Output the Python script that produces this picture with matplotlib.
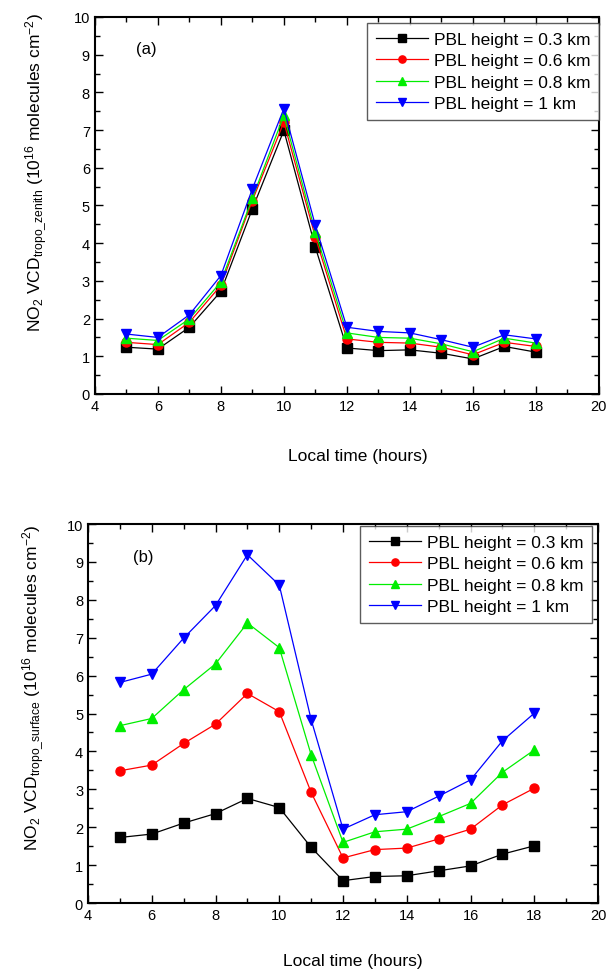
import matplotlib
matplotlib.use("Agg")
import matplotlib.pyplot as plt
from matplotlib.ticker import MultipleLocator

plt.rcParams['font.family'] = ['Liberation Sans', 'DejaVu Sans']
plt.rcParams['mathtext.fontset'] = 'custom'
plt.rcParams['mathtext.rm'] = 'Liberation Sans'
plt.rcParams['mathtext.it'] = 'Liberation Sans'

hours = [5, 6, 7, 8, 9, 10, 11, 12, 13, 14, 15, 16, 17, 18]
labels = ["PBL height = 0.3 km", "PBL height = 0.6 km",
          "PBL height = 0.8 km", "PBL height = 1 km"]

# panel (a): zenith tropospheric VCD
zenith_03 = [1.24, 1.19, 1.77, 2.72, 4.91, 6.99, 3.89, 1.22, 1.15, 1.17, 1.08, 0.93, 1.26, 1.11]
zenith_06 = [1.37, 1.31, 1.90, 2.88, 5.13, 7.21, 4.16, 1.46, 1.37, 1.35, 1.24, 1.04, 1.37, 1.26]
zenith_08 = [1.48, 1.42, 1.99, 2.97, 5.19, 7.39, 4.29, 1.62, 1.50, 1.48, 1.33, 1.12, 1.48, 1.35]
zenith_10 = [1.59, 1.50, 2.10, 3.14, 5.44, 7.57, 4.47, 1.77, 1.66, 1.62, 1.44, 1.24, 1.57, 1.46]

# panel (b): surface tropospheric VCD
surface_03 = [1.73, 1.82, 2.11, 2.36, 2.76, 2.52, 1.47, 0.59, 0.70, 0.72, 0.85, 0.98, 1.29, 1.51]
surface_06 = [3.49, 3.64, 4.21, 4.72, 5.53, 5.05, 2.92, 1.19, 1.41, 1.45, 1.69, 1.95, 2.59, 3.03]
surface_08 = [4.68, 4.87, 5.63, 6.31, 7.39, 6.74, 3.91, 1.60, 1.88, 1.95, 2.28, 2.63, 3.45, 4.04]
surface_10 = [5.82, 6.04, 6.99, 7.85, 9.19, 8.39, 4.84, 1.95, 2.33, 2.41, 2.82, 3.25, 4.28, 5.01]

colors = ['black', '#ff0000', '#00ee00', '#0000ff']
markers = ['s', 'o', '^', 'v']

fig = plt.figure(figsize=(6.08, 9.70), dpi=100)
ax_a = fig.add_axes([0.156, 0.5928, 0.829, 0.3887])
ax_b = fig.add_axes([0.1447, 0.068, 0.839, 0.3907])


def draw_panel(ax, series, tag, ylabel, tag_xy, ylab_xy, xlab_xy, leg_anchor):
    for vals, c, m, lab in zip(series, colors, markers, labels):
        ax.plot(hours, vals, color=c, marker=m, markersize=6.5, linewidth=0.9,
                markeredgecolor=c, label=lab)
    ax.set_xlim(4, 20)
    ax.set_ylim(0, 10)
    ax.xaxis.set_major_locator(MultipleLocator(2))
    ax.xaxis.set_minor_locator(MultipleLocator(1))
    ax.yaxis.set_major_locator(MultipleLocator(1))
    ax.yaxis.set_minor_locator(MultipleLocator(0.5))
    ax.tick_params(which='both', direction='in', top=True, right=True,
                   labelsize=10.5, width=1)
    ax.tick_params(which='major', length=6)
    ax.tick_params(which='minor', length=3.5)
    for sp in ax.spines.values():
        sp.set_linewidth(1.5)
    ax.set_xlabel("Local time (hours)", fontsize=12.5)
    ax.xaxis.set_label_coords(*xlab_xy)
    ax.set_ylabel(ylabel, fontsize=12.5)
    ax.yaxis.set_label_coords(*ylab_xy)
    ax.text(tag_xy[0], tag_xy[1], tag, fontsize=12, ha='left', va='center')
    leg = ax.legend(loc='upper right', bbox_to_anchor=leg_anchor, fontsize=12.5,
                    frameon=True, fancybox=False, borderaxespad=0,
                    handlelength=3.0, handletextpad=0.35, labelspacing=0.36,
                    borderpad=0.5, markerscale=0.8)
    leg.get_frame().set_edgecolor('#333333')
    leg.get_frame().set_linewidth(1.0)


draw_panel(ax_a, [zenith_03, zenith_06, zenith_08, zenith_10], "(a)",
           r"NO$_2$ VCD$_{\mathrm{tropo\_zenith}}$ (10$^{16}$ molecules cm$^{-2}$)",
           (5.3, 9.15), (-0.09, 0.59), (0.522, -0.142), (1.0, 0.984))
draw_panel(ax_b, [surface_03, surface_06, surface_08, surface_10], "(b)",
           r"NO$_2$ VCD$_{\mathrm{tropo\_surface}}$ (10$^{16}$ molecules cm$^{-2}$)",
           (5.4, 9.15), (-0.082, 0.57), (0.52, -0.131), (0.988, 0.995))

fig.savefig("out.png", dpi=100)
